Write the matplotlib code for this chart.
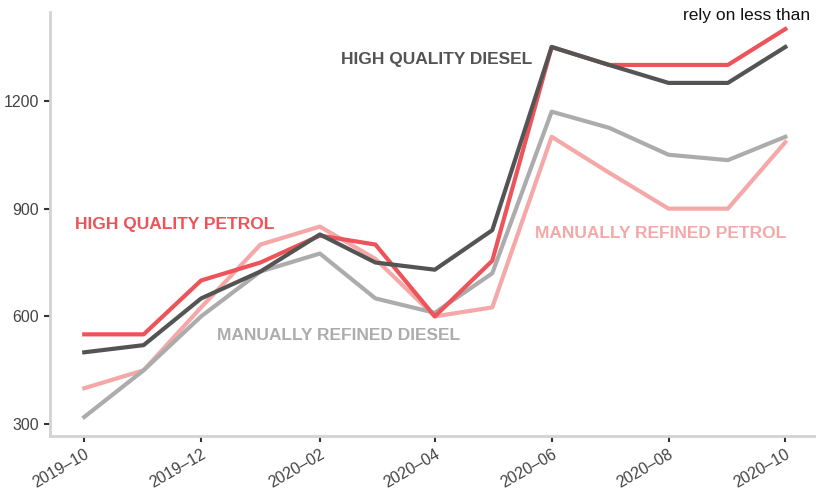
import matplotlib
matplotlib.use("Agg")
import matplotlib.pyplot as plt
import matplotlib.dates as mdates
import pandas as pd

# monthly data, 2019-10 .. 2020-10
months = pd.date_range("2019-10-01", "2020-10-01", freq="MS")
hq_petrol = [550, 550, 700, 750, 825, 800, 600, 755, 1350, 1300, 1300, 1300, 1400]
hq_diesel = [500, 520, 650, 725, 828, 750, 730, 840, 1350, 1300, 1250, 1250, 1350]
mr_diesel = [320, 450, 600, 725, 775, 650, 610, 720, 1170, 1125, 1050, 1035, 1100]
mr_petrol = [400, 450, 625, 800, 850, 760, 600, 625, 1100, 1000, 900, 900, 1085]

c_red = "#ec5459"
c_dark = "#545454"
c_gray = "#acacac"
c_pink = "#f5a8a8"

plt.rcParams["font.family"] = ["Liberation Sans", "DejaVu Sans"]

fig = plt.figure(figsize=(8.16, 4.91), dpi=100)
ax = fig.add_axes([0.061, 0.112, 0.939, 0.864])

ax.plot(months, mr_petrol, color=c_pink, lw=3)
ax.plot(months, mr_diesel, color=c_gray, lw=3)
ax.plot(months, hq_petrol, color=c_red, lw=3)
ax.plot(months, hq_diesel, color=c_dark, lw=3)

ax.set_ylim(267, 1448)
ax.set_xlim(pd.Timestamp("2019-09-13"), pd.Timestamp("2020-10-17"))
ax.set_yticks([300, 600, 900, 1200])
ax.xaxis.set_major_locator(mdates.MonthLocator(bymonth=[2, 4, 6, 8, 10, 12]))
ax.xaxis.set_major_formatter(mdates.DateFormatter("%Y–%m"))

for s in ["top", "right"]:
    ax.spines[s].set_visible(False)
for s in ["left", "bottom"]:
    ax.spines[s].set_color("#d3d3d3")
    ax.spines[s].set_linewidth(2)

ax.tick_params(axis="both", length=4, width=1.5, color="#333333",
               labelcolor="#444444", labelsize=11.5)
plt.setp(ax.get_xticklabels(), rotation=30, ha="right", rotation_mode="anchor")

# series labels
lab = dict(fontsize=12.5, fontweight="bold", va="center", ha="center")
ax.text(pd.Timestamp("2019-11-17"), 857, "HIGH QUALITY PETROL", color=c_red, **lab)
ax.text(pd.Timestamp("2020-04-02"), 1314, "HIGH QUALITY DIESEL", color=c_dark, **lab)
ax.text(pd.Timestamp("2020-02-11"), 548, "MANUALLY REFINED DIESEL", color=c_gray, **lab)
ax.text(pd.Timestamp("2020-07-28"), 832, "MANUALLY REFINED PETROL", color=c_pink, **lab)

fig.text(0.837, 0.968, "rely on less than", fontsize=12.5, color="#111111",
         va="center", ha="left")

fig.savefig("out.png", dpi=100)
